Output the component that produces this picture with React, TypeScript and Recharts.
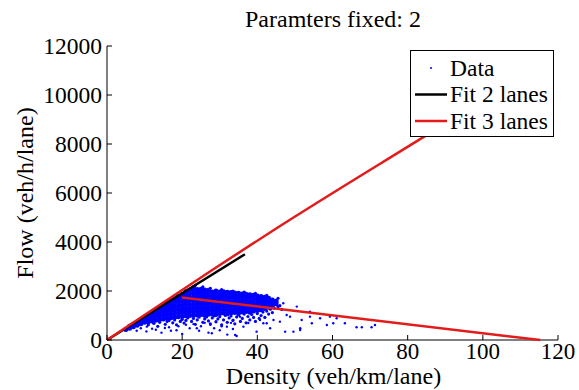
import React from 'react';
import { ScatterChart, Scatter, XAxis, YAxis } from 'recharts';

/* ── Axes ─────────────────────────────────────────────────────────────── */
const xTicks = [0, 20, 40, 60, 80, 100, 120];
const yTicks = [0, 2000, 4000, 6000, 8000, 10000, 12000];

/* ── Data cloud: dense part, one x (density) per column with its flows ── */
const cloudColumns: [number, number[]][] = [
  [5, [430]],
  [6, [480, 560]],
  [7, [540, 640]],
  [8, [600, 720]],
  [9, [660, 790, 840]],
  [10, [720, 850, 930]],
  [11, [750, 880, 1010]],
  [12, [780, 920, 1060, 1120]],
  [13, [810, 950, 1090, 1210]],
  [14, [840, 990, 1140, 1280, 1320]],
  [15, [860, 1010, 1160, 1300, 1400]],
  [16, [890, 1040, 1190, 1340, 1480]],
  [17, [910, 1060, 1210, 1360, 1500, 1590]],
  [18, [930, 1080, 1230, 1380, 1530, 1670]],
  [19, [950, 1100, 1250, 1400, 1550, 1690, 1780]],
  [20, [970, 1120, 1270, 1420, 1570, 1720, 1860]],
  [21, [990, 1140, 1290, 1440, 1590, 1740, 1880, 1970]],
  [22, [1000, 1150, 1300, 1450, 1600, 1750, 1900, 2040]],
  [23, [1010, 1160, 1310, 1460, 1610, 1760, 1910, 2060, 2130]],
  [24, [1020, 1170, 1320, 1470, 1620, 1770, 1920, 2060]],
  [25, [1040, 1190, 1340, 1490, 1640, 1790, 1940, 2070]],
  [26, [1010, 1160, 1310, 1460, 1610, 1760, 1910, 2040]],
  [27, [1050, 1200, 1350, 1500, 1650, 1800, 1950, 2030]],
  [28, [1060, 1210, 1360, 1510, 1660, 1810, 1960]],
  [29, [1040, 1190, 1340, 1490, 1640, 1790, 1940, 2000]],
  [30, [1080, 1230, 1380, 1530, 1680, 1830, 1960]],
  [31, [1100, 1250, 1400, 1550, 1700, 1850, 1970]],
  [32, [1070, 1220, 1370, 1520, 1670, 1820, 1950]],
  [33, [1110, 1260, 1410, 1560, 1710, 1860, 1940]],
  [34, [1120, 1270, 1420, 1570, 1720, 1870, 1920]],
  [35, [1100, 1250, 1400, 1550, 1700, 1850, 1910]],
  [36, [1140, 1290, 1440, 1590, 1740, 1880]],
  [37, [1160, 1310, 1460, 1610, 1760, 1870]],
  [38, [1130, 1280, 1430, 1580, 1730, 1850]],
  [39, [1180, 1330, 1480, 1630, 1780, 1830]],
  [40, [1200, 1350, 1500, 1650, 1800]],
  [41, [1230, 1380, 1530, 1680, 1780]],
  [42, [1290, 1440, 1590, 1740]],
  [43, [1340, 1490, 1640, 1700]],
  [44, [1400, 1550, 1630]],
  [45, [1480, 1580]],
];

/* fuzzy fringe around the dense part */
const cloudFringe: [number, number][] = [
  [11, 620], [12.5, 680], [13.5, 560], [14, 720], [15.5, 640], [16, 760], [16.5, 800],
  [17.5, 700], [18, 820], [18.5, 620], [19.5, 760], [20, 850], [20.5, 690], [21, 800],
  [21.5, 900], [22.5, 760], [23, 880], [23.5, 640], [24, 820], [24.5, 930], [25.5, 720],
  [26, 860], [26.5, 940], [27, 780], [27.5, 660], [28, 900], [28.5, 980], [29, 740],
  [29.5, 860], [30, 950], [30.5, 620], [31, 820], [31.5, 1000], [32, 720], [32.5, 900],
  [33, 980], [33.5, 800], [34, 660], [34.5, 940], [35, 1020], [35.5, 760], [36, 880],
  [36.5, 1060], [37, 700], [37.5, 960], [38, 820], [38.5, 1040], [39, 920], [39.5, 760],
  [40, 1080], [40.5, 880], [41, 1000], [41.5, 1140], [42, 920], [42.5, 1180], [43, 1060],
  [43.5, 1260], [44, 1120], [44.5, 1300], [45.5, 1360], [46, 1400], [46.5, 1250],
  [23.5, 2230], [25.5, 2170], [27.5, 2110], [30.5, 2060], [33.5, 2000], [36.5, 1960],
  [39.5, 1900], [42.5, 1820], [45.5, 1700],
];

/* isolated measurements */
const cloudSparse: [number, number][] = [
  [7.9, 380], [9, 480], [10.6, 545], [10.5, 350], [12.3, 682], [12, 460], [13, 420],
  [14.5, 300], [15.4, 490], [16.5, 520], [17, 380], [18.5, 400], [19.9, 818], [19, 560],
  [20, 250], [21, 620], [22, 480], [23.9, 477], [23, 650], [24.5, 380], [25, 560],
  [26, 700], [27, 300], [27.9, 273], [27.5, 620], [28.5, 480], [29, 760], [30, 400],
  [30.5, 560], [31.9, 545], [32, 220], [33, 700], [33.5, 450], [33.6, 818], [34.1, 205],
  [34.5, 164], [35.4, 953], [36.3, 545], [37.6, 695], [39.8, 341], [40.7, 818],
  [41.6, 682], [42.5, 682], [43.4, 477], [44.3, 818], [46, 750], [46.9, 1500],
  [47.4, 341], [47.8, 1023], [48.7, 954], [49.6, 341], [50.5, 1364], [51.4, 409],
  [51.8, 818], [51.4, 477], [54, 954], [54, 1160], [54.5, 682], [56.7, 886], [58.5, 614],
  [59.3, 954], [60.2, 682], [61.1, 886], [63.3, 682], [66.4, 518], [67.8, 518],
  [70.4, 518], [71.3, 614],
];

/* ── Fitted fundamental diagrams ──────────────────────────────────────── */
const fit2Lanes: [number, number][] = [[0, 0], [36.7, 3500]];
const fit3Free: [number, number][] = [[0, 0], [27.9, 2850], [44.3, 4480], [84.6, 8320], [115, 11200]];
const fit3Congested: [number, number][] = [[19.9, 1735], [115.3, 0]];

const toPoints = (arr: [number, number][]) => arr.map(([x, y]) => ({ x, y }));
const densePoints = cloudColumns.flatMap(([x, ys]) => ys.map((y) => ({ x, y })));

const FONT = "'Liberation Serif', 'Times New Roman', Times, serif";
const BLUE = '#0000ff';
const RED = '#e31b1b';
const txt = (size: number) => ({ fontFamily: FONT, fontSize: size });

/* ── Custom ticks: MATLAB style, ticks pointing inward ────────────────── */
// eslint-disable-next-line @typescript-eslint/no-explicit-any
function YTick(props: any) {
  const { x, y, payload } = props;
  return (
    <g>
      <line x1={x} x2={x + 5} y1={y} y2={y} stroke="#000" />
      <text x={x - 5} y={y + 8} textAnchor="end" style={txt(23.5)} fill="#000">
        {payload.value}
      </text>
    </g>
  );
}

// eslint-disable-next-line @typescript-eslint/no-explicit-any
function XTick(props: any) {
  const { x, y, payload } = props;
  return (
    <g>
      <line x1={x} x2={x} y1={y} y2={y - 5} stroke="#000" />
      <text x={x} y={y + 18.5} textAnchor="middle" style={txt(23)} fill="#000">
        {payload.value}
      </text>
    </g>
  );
}

const dot = (r: number) =>
  // eslint-disable-next-line @typescript-eslint/no-explicit-any
  (p: any) => <circle cx={p.cx} cy={p.cy} r={r} fill={BLUE} />;
const noDot = () => <g />;

export default function App() {
  return (
    <div style={{ position: 'absolute', left: 0, top: 0, width: 579, height: 390, background: '#fff' }}>
      <ScatterChart width={579} height={390} margin={{ top: 46, right: 21, bottom: 0, left: 0 }}>
        <XAxis
          type="number"
          dataKey="x"
          domain={[0, 120]}
          ticks={xTicks}
          interval={0}
          height={50}
          tickSize={0}
          tickMargin={0}
          tickLine={false}
          tick={<XTick />}
          axisLine={{ stroke: '#000' }}
          label={({ viewBox }: any) => (
            <text
              x={viewBox.x + viewBox.width / 2 + 1}
              y={viewBox.y + 44}
              textAnchor="middle"
              style={txt(24)}
              fill="#000"
            >
              Density (veh/km/lane)
            </text>
          )}
        />
        <YAxis
          type="number"
          dataKey="y"
          domain={[0, 12000]}
          ticks={yTicks}
          interval={0}
          width={107}
          tickSize={0}
          tickMargin={0}
          tickLine={false}
          tick={<YTick />}
          axisLine={{ stroke: '#000' }}
          label={({ viewBox }: any) => {
            const cy = viewBox.y + viewBox.height / 2;
            return (
              <text
                x={33}
                y={cy}
                transform={`rotate(-90, 33, ${cy})`}
                textAnchor="middle"
                style={txt(24)}
                fill="#000"
              >
                Flow (veh/h/lane)
              </text>
            );
          }}
        />

        <Scatter data={toPoints(cloudSparse)} shape={dot(1.2)} isAnimationActive={false} />
        <Scatter data={toPoints(cloudFringe)} shape={dot(1.6)} isAnimationActive={false} />
        <Scatter data={densePoints} shape={dot(2.5)} isAnimationActive={false} />

        <Scatter
          data={toPoints(fit2Lanes)}
          line={{ stroke: '#000', strokeWidth: 2.5 }}
          shape={noDot}
          isAnimationActive={false}
        />
        <Scatter
          data={toPoints(fit3Free)}
          line={{ stroke: RED, strokeWidth: 2.5 }}
          lineJointType="monotoneX"
          shape={noDot}
          isAnimationActive={false}
        />
        <Scatter
          data={toPoints(fit3Congested)}
          line={{ stroke: RED, strokeWidth: 2.5 }}
          shape={noDot}
          isAnimationActive={false}
        />
      </ScatterChart>

      {/* Title + legend overlay */}
      <svg
        width={579}
        height={390}
        style={{ position: 'absolute', left: 0, top: 0, pointerEvents: 'none' }}
      >
        <text x={333} y={27} textAnchor="middle" style={txt(24)} fill="#000">
          Paramters fixed: 2
        </text>
        <rect x={410.5} y={50.5} width={143} height={86} fill="#fff" stroke="#000" />
        <circle cx={431} cy={68} r={1} fill={BLUE} />
        <text x={450} y={76} style={txt(23.5)} fill="#000">Data</text>
        <line x1={415} x2={447} y1={94.5} y2={94.5} stroke="#000" strokeWidth={2.5} />
        <text x={450} y={102} style={txt(23.5)} fill="#000">Fit 2 lanes</text>
        <line x1={415} x2={447} y1={121} y2={121} stroke={RED} strokeWidth={2.5} />
        <text x={450} y={128.5} style={txt(23.5)} fill="#000">Fit 3 lanes</text>
      </svg>
    </div>
  );
}
